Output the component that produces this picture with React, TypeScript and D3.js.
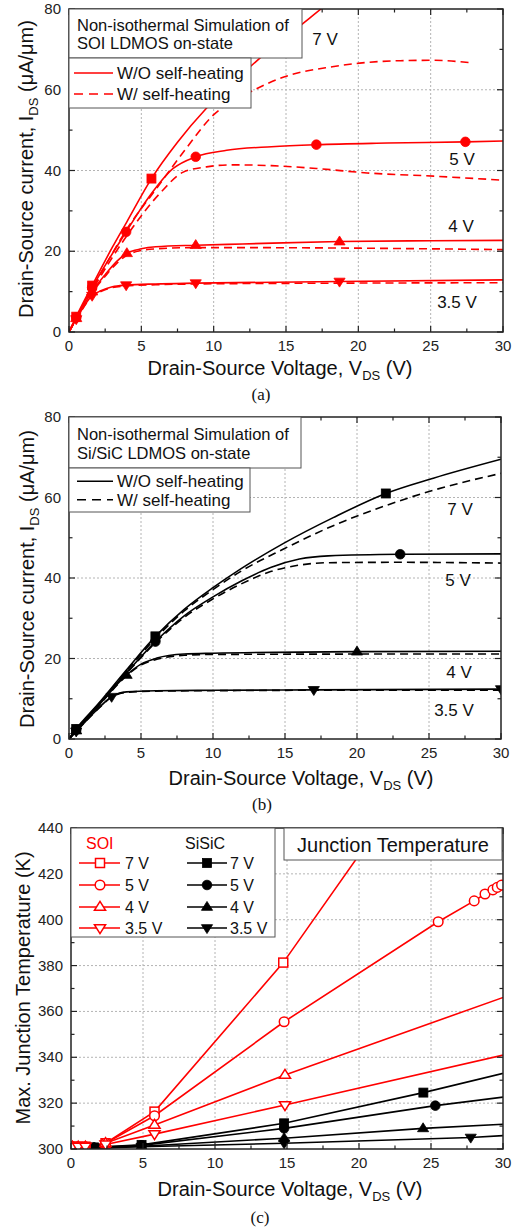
import React from 'react';
import * as d3 from 'd3';

type Pt = [number, number];

// ---------- Panel (a): SOI LDMOS I-V ----------
const a_7V_wo: Pt[] = [[0,0],[0.5,3.8],[1.6,11.5],[3,21],[4,27.3],[5.7,38],[7.5,47],[9.5,55.4],[12,64],[14,70.3],[16.1,76.2],[17.6,80.5],[19,84]];
const a_7V_w: Pt[] = [[0,0],[0.5,3.5],[1.6,10.6],[3,19.5],[4,25.5],[6.06,35.6],[8,45],[9.97,53.7],[12.3,59],[14.8,63.1],[18.2,65.7],[20.1,66.6],[22.9,67.2],[25.2,67.3],[27.7,66.7]];
const a_5V_wo: Pt[] = [[0,0],[0.5,3.6],[1.6,11],[3.95,24.8],[5.5,33.3],[7.2,40.5],[8.76,43.4],[10.9,45],[14,45.9],[17.1,46.4],[22,46.8],[27.4,47.1],[30,47.3]];
const a_5V_w: Pt[] = [[0,0],[0.5,3.4],[1.6,10.3],[3.95,23.6],[6.3,34.4],[7.9,39.6],[9.5,40.9],[11.3,41.4],[14,41.2],[17.1,40.5],[20.6,39.4],[25.2,38.6],[30,37.6]];
const a_4V_wo: Pt[] = [[0,0],[0.5,3.4],[1.6,10],[2.5,14.2],[3.3,17.5],[4,19.5],[5,20.6],[6,21.1],[8.76,21.5],[12,21.8],[18.7,22.4],[25,22.6],[30,22.7]];
const a_4V_w: Pt[] = [[0,0],[0.5,3.3],[1.6,9.7],[2.5,13.8],[3.3,17],[4,19],[5,20.2],[6,20.6],[8.76,20.9],[12,20.9],[18.7,20.8],[25,20.6],[30,20.4]];
const a_35V_wo: Pt[] = [[0,0],[0.5,3.2],[1.6,9],[2.2,10.2],[3,11.2],[3.95,11.6],[6,11.9],[8.76,12.1],[18.7,12.5],[30,12.9]];
const a_35V_w: Pt[] = [[0,0],[0.5,3.1],[1.6,8.8],[2.2,10],[3,11],[3.95,11.4],[6,11.7],[8.76,11.9],[18.7,12.1],[30,12.2]];
const a_7V_marks: Pt[] = [[0.5,3.8],[1.6,11.5],[5.7,38]];
const a_5V_marks: Pt[] = [[0.5,3.6],[1.6,11],[3.95,24.8],[8.76,43.4],[17.1,46.4],[27.4,47.1]];
const a_4V_marks: Pt[] = [[0.5,3.4],[1.6,10],[4,19.5],[8.76,21.5],[18.7,22.4]];
const a_35V_marks: Pt[] = [[0.5,3.2],[1.6,9],[3.95,11.6],[8.76,12.1],[18.7,12.5]];

// ---------- Panel (b): Si/SiC LDMOS I-V ----------
const b_7V_wo: Pt[] = [[0,0],[0.5,2.5],[2,8.6],[4,17.2],[6,25.5],[8,32.2],[10,37.6],[11.9,42.2],[14.9,48.6],[18.35,55],[22,61],[25.3,64.8],[30,69.5]];
const b_7V_w: Pt[] = [[0,0],[0.5,2.4],[2,8.4],[4,16.9],[6,25],[8,31.8],[10,37.1],[11.9,41.6],[14.9,47.2],[18.35,53],[22,58],[25.3,61.8],[30,66]];
const b_5V_wo: Pt[] = [[0,0],[0.5,2.3],[2,8.4],[4,16.5],[6,24.2],[8,30.6],[10,35.3],[12,39.3],[14,42.6],[16,44.7],[18,45.5],[23,45.9],[30,46]];
const b_5V_w: Pt[] = [[0,0],[0.5,2.2],[2,8.3],[4,16.3],[6,23.9],[8,30.2],[10,34.8],[12,38.6],[14,41.6],[16,43.2],[18,43.8],[23,43.9],[30,43.7]];
const b_4V_wo: Pt[] = [[0,0],[0.5,2.1],[2,8.1],[4,15.9],[5,18.6],[6.1,20.1],[8,21.1],[10,21.3],[20,21.7],[30,21.8]];
const b_4V_w: Pt[] = [[0,0],[0.5,2],[2,8],[4,15.7],[5,18.4],[6.1,19.8],[8,20.8],[10,21.0],[20,21.1],[30,21.1]];
const b_35V_wo: Pt[] = [[0,0],[0.5,1.9],[2,7.5],[2.96,10.5],[4,11.7],[6,12],[10,12.1],[17,12.2],[30,12.4]];
const b_35V_w: Pt[] = [[0,0],[0.5,1.9],[2,7.4],[2.96,10.4],[4,11.6],[6,11.9],[10,12],[17,12.1],[30,12.1]];
const b_7V_marks: Pt[] = [[0.5,2.5],[6,25.5],[22,61]];
const b_5V_marks: Pt[] = [[0.5,2.3],[6,24.2],[23,45.9]];
const b_4V_marks: Pt[] = [[0.5,2.1],[4,15.9],[20,21.7]];
const b_35V_marks: Pt[] = [[0.5,1.9],[2.96,10.5],[17,12.2],[30,12.4]];

// ---------- Panel (c): max junction temperature ----------
const c_soi_7V: Pt[] = [[0.1,301],[0.5,301],[1.0,301],[2.4,302.5],[5.8,316.3],[14.74,381.3],[22,446]];
const c_soi_5V: Pt[] = [[0.1,301],[0.5,301],[1.0,301],[2.4,302.5],[5.8,314.5],[14.8,355.5],[25.5,399.1],[28,408.2],[28.75,411.2],[29.3,413],[29.6,414.1],[29.9,415.1]];
const c_soi_4V: Pt[] = [[0.1,301],[0.5,301],[1.0,301],[2.4,302.5],[5.8,310.5],[14.86,332.3],[31,368.3]];
const c_soi_35V: Pt[] = [[0.1,301],[0.5,301],[1.0,301],[2.4,302],[5.8,306.5],[14.86,319.2],[31,342.4]];
const c_sic_7V: Pt[] = [[0.1,300.5],[0.5,300.5],[1.6,300.7],[4.9,301.8],[14.8,311.2],[24.47,324.6],[31,334.5]];
const c_sic_5V: Pt[] = [[0.1,300.5],[0.5,300.5],[1.6,300.6],[4.9,301.6],[14.8,309],[25.3,318.9],[31,323.4]];
const c_sic_4V: Pt[] = [[0.1,300.4],[0.5,300.4],[1.6,300.5],[4.9,301.2],[14.8,304.7],[24.45,309],[31,311.1]];
const c_sic_35V: Pt[] = [[0.1,300.3],[0.5,300.3],[1.6,300.4],[4.9,301],[14.8,302.5],[27.76,305],[31,306.2]];

const xTicks = [0, 5, 10, 15, 20, 25, 30];
const iTicks = [0, 20, 40, 60, 80];
const tTicks = [300, 320, 340, 360, 380, 400, 420, 440];
const gateLabels = ['7 V', '5 V', '4 V', '3.5 V'];

const RED = '#ff0000';
const BLACK = '#000000';
const FONT = 'Arial, "Liberation Sans", Helvetica, sans-serif';

type MType = 'square' | 'circle' | 'tri' | 'itri';

function Marker({ type, x, y, color, filled, size = 9 }: { type: MType; x: number; y: number; color: string; filled: boolean; size?: number }) {
  const fill = filled ? color : '#ffffff';
  const sw = filled ? 0.8 : 1.5;
  const h = size / 2;
  if (type === 'square') return <rect x={x - h} y={y - h} width={size} height={size} fill={fill} stroke={color} strokeWidth={sw} />;
  if (type === 'circle') return <circle cx={x} cy={y} r={h + 0.3} fill={fill} stroke={color} strokeWidth={sw} />;
  const t = size * 0.62;
  if (type === 'tri') return <polygon points={`${x - t},${y + t * 0.6} ${x + t},${y + t * 0.6} ${x},${y - t * 1.0}`} fill={fill} stroke={color} strokeWidth={sw} />;
  return <polygon points={`${x - t},${y - t * 0.6} ${x + t},${y - t * 0.6} ${x},${y + t * 1.0}`} fill={fill} stroke={color} strokeWidth={sw} />;
}

interface Series { pts: Pt[]; color: string; dashed?: boolean; marks?: Pt[]; mtype?: MType; filled?: boolean; curve?: boolean; markAll?: boolean }
interface PanelProps {
  id: string; left: number; right: number; top: number; bottom: number;
  ydom: [number, number]; yticks: number[]; yminor: number;
  series: Series[];
  children?: React.ReactNode;
}

function Panel({ id, left, right, top, bottom, ydom, yticks, yminor, series, children }: PanelProps) {
  const x = d3.scaleLinear().domain([0, 30]).range([left, right]);
  const y = d3.scaleLinear().domain(ydom).range([bottom, top]);
  const xMinor = d3.range(0, 30.01, 2.5);
  const yMinor = d3.range(ydom[0], ydom[1] + 0.01, yminor);
  const grid = '#b4b4b4';
  return (
    <g>
      <defs>
        <clipPath id={`clip-${id}`}><rect x={left} y={top} width={right - left} height={bottom - top} /></clipPath>
      </defs>
      {xTicks.slice(1, -1).map((t) => (
        <line key={`gx${t}`} x1={x(t)} x2={x(t)} y1={top} y2={bottom} stroke={grid} strokeWidth={1} strokeDasharray="2,2" />
      ))}
      {yticks.slice(1, -1).map((t) => (
        <line key={`gy${t}`} x1={left} x2={right} y1={y(t)} y2={y(t)} stroke={grid} strokeWidth={1} strokeDasharray="2,2" />
      ))}
      <g clipPath={`url(#clip-${id})`}>
        {series.map((s, i) => {
          const gen = d3.line<Pt>().x((d) => x(d[0])).y((d) => y(d[1])).curve(s.curve ? d3.curveMonotoneX : d3.curveLinear);
          return <path key={`l${i}`} d={gen(s.pts) || ''} fill="none" stroke={s.color} strokeWidth={1.6} strokeDasharray={s.dashed ? '8,5' : undefined} />;
        })}
        {series.map((s, i) => {
          const m = s.markAll ? s.pts : s.marks || [];
          return m.map((p, j) => (
            <Marker key={`m${i}-${j}`} type={s.mtype || 'circle'} x={x(p[0])} y={y(p[1])} color={s.color} filled={s.filled !== false} />
          ));
        })}
      </g>
      {/* ticks */}
      {xMinor.map((t) => {
        const major = t % 5 === 0;
        const L = major ? 6 : 3.5;
        return (
          <g key={`tx${t}`}>
            <line x1={x(t)} x2={x(t)} y1={bottom} y2={bottom - L} stroke="#222" strokeWidth={1.2} />
            <line x1={x(t)} x2={x(t)} y1={top} y2={top + L} stroke="#222" strokeWidth={1.2} />
          </g>
        );
      })}
      {yMinor.map((t, k) => {
        const major = k % 2 === 0;
        const L = major ? 6 : 3.5;
        return (
          <g key={`ty${t}`}>
            <line x1={left} x2={left + L} y1={y(t)} y2={y(t)} stroke="#222" strokeWidth={1.2} />
            <line x1={right} x2={right - L} y1={y(t)} y2={y(t)} stroke="#222" strokeWidth={1.2} />
          </g>
        );
      })}
      <rect x={left} y={top} width={right - left} height={bottom - top} fill="none" stroke="#222" strokeWidth={1.5} />
      {xTicks.map((t) => (
        <text key={`lx${t}`} x={x(t)} y={bottom + 19} textAnchor="middle" fontSize={15} fill="#222" fontFamily={FONT}>{t}</text>
      ))}
      {yticks.map((t) => (
        <text key={`ly${t}`} x={left - 8} y={y(t) + 5} textAnchor="end" fontSize={15} fill="#222" fontFamily={FONT}>{t}</text>
      ))}
      {children}
    </g>
  );
}

function XLabel({ cx, y }: { cx: number; y: number }) {
  return (
    <text x={cx} y={y} textAnchor="middle" fontSize={20} fill="#111" fontFamily={FONT}>
      <tspan>Drain-Source Voltage, V</tspan>
      <tspan fontSize={13} dy={5}>DS</tspan>
      <tspan dy={-5}> (V)</tspan>
    </text>
  );
}

function IVLegend({ top, mid, bot, right1, right2, lineX, color, title }: { top: number; mid: number; bot: number; right1: number; right2: number; lineX: number; color: string; title: string[] }) {
  const left = 69;
  const r1 = mid - (mid - top) * 0.0;
  const row1 = mid + (bot - mid) * 0.3;
  const row2 = mid + (bot - mid) * 0.72;
  return (
    <g fontFamily={FONT} fill="#111">
      <rect x={left} y={top} width={right1 - left} height={mid - top} fill="#fff" stroke="#555" strokeWidth={1} />
      <rect x={left} y={r1} width={right2 - left} height={bot - mid} fill="#fff" stroke="#555" strokeWidth={1} />
      <text x={77} y={top + (mid - top) * 0.33 + 6} fontSize={16.5}>{title[0]}</text>
      <text x={77} y={top + (mid - top) * 0.7 + 6} fontSize={16.5}>{title[1]}</text>
      <line x1={lineX} x2={113} y1={row1} y2={row1} stroke={color} strokeWidth={1.6} />
      <line x1={lineX} x2={113} y1={row2} y2={row2} stroke={color} strokeWidth={1.6} strokeDasharray="9,6" />
      <text x={117} y={row1 + 6} fontSize={17}>W/O self-heating</text>
      <text x={117} y={row2 + 6} fontSize={17}>W/ self-heating</text>
    </g>
  );
}

export default function App() {
  const aSeries: Series[] = [
    { pts: a_7V_w, color: RED, dashed: true, curve: true },
    { pts: a_5V_w, color: RED, dashed: true, curve: true },
    { pts: a_4V_w, color: RED, dashed: true, curve: true },
    { pts: a_35V_w, color: RED, dashed: true, curve: true },
    { pts: a_7V_wo, color: RED, curve: true, marks: a_7V_marks, mtype: 'square' },
    { pts: a_5V_wo, color: RED, curve: true, marks: a_5V_marks, mtype: 'circle' },
    { pts: a_4V_wo, color: RED, curve: true, marks: a_4V_marks, mtype: 'tri' },
    { pts: a_35V_wo, color: RED, curve: true, marks: a_35V_marks, mtype: 'itri' },
  ];
  const bSeries: Series[] = [
    { pts: b_7V_w, color: BLACK, dashed: true, curve: true },
    { pts: b_5V_w, color: BLACK, dashed: true, curve: true },
    { pts: b_4V_w, color: BLACK, dashed: true, curve: true },
    { pts: b_35V_w, color: BLACK, dashed: true, curve: true },
    { pts: b_7V_wo, color: BLACK, curve: true, marks: b_7V_marks, mtype: 'square' },
    { pts: b_5V_wo, color: BLACK, curve: true, marks: b_5V_marks, mtype: 'circle' },
    { pts: b_4V_wo, color: BLACK, curve: true, marks: b_4V_marks, mtype: 'tri' },
    { pts: b_35V_wo, color: BLACK, curve: true, marks: b_35V_marks, mtype: 'itri' },
  ];
  const cSeries: Series[] = [
    { pts: c_sic_7V, color: BLACK, markAll: true, mtype: 'square' },
    { pts: c_sic_5V, color: BLACK, markAll: true, mtype: 'circle' },
    { pts: c_sic_4V, color: BLACK, markAll: true, mtype: 'tri' },
    { pts: c_sic_35V, color: BLACK, markAll: true, mtype: 'itri' },
    { pts: c_soi_7V, color: RED, markAll: true, mtype: 'square', filled: false },
    { pts: c_soi_5V, color: RED, markAll: true, mtype: 'circle', filled: false },
    { pts: c_soi_4V, color: RED, markAll: true, mtype: 'tri', filled: false },
    { pts: c_soi_35V, color: RED, markAll: true, mtype: 'itri', filled: false },
  ];
  const mtypes: MType[] = ['square', 'circle', 'tri', 'itri'];
  const cRows = [863, 885, 907, 928];

  return (
    <svg width={516} height={1227} style={{ position: 'absolute', left: 0, top: 0, background: '#fff' }} fontFamily={FONT}>
      <rect x={0} y={0} width={516} height={1227} fill="#fff" />
      {/* (a) */}
      <Panel id="a" left={69} right={503} top={9} bottom={332} ydom={[0, 80]} yticks={iTicks} yminor={10} series={aSeries}>
        <IVLegend top={9} mid={58} bot={108} right1={302} right2={251} lineX={74} color={RED} title={['Non-isothermal Simulation of', 'SOI LDMOS on-state']} />
        <text x={325} y={45} textAnchor="middle" fontSize={17} fill="#111">{gateLabels[0]}</text>
        <text x={462} y={165} textAnchor="middle" fontSize={17} fill="#111">{gateLabels[1]}</text>
        <text x={461} y={232} textAnchor="middle" fontSize={17} fill="#111">{gateLabels[2]}</text>
        <text x={457} y={308} textAnchor="middle" fontSize={17} fill="#111">{gateLabels[3]}</text>
      </Panel>
      <XLabel cx={280} y={375} />
      <text transform="translate(33,169) rotate(-90)" textAnchor="middle" fontSize={20} fill="#111">
        <tspan>Drain-Source current, I</tspan><tspan fontSize={13} dy={5}>DS</tspan><tspan dy={-5}> (μA/μm)</tspan>
      </text>
      <text x={261} y={400} textAnchor="middle" fontSize={17} fontFamily="'Liberation Serif', 'Times New Roman', serif" fill="#111">(a)</text>

      {/* (b) */}
      <Panel id="b" left={69} right={501} top={417} bottom={739} ydom={[0, 80]} yticks={iTicks} yminor={10} series={bSeries}>
        <IVLegend top={417} mid={468} bot={512} right1={301} right2={250} lineX={77} color={BLACK} title={['Non-isothermal Simulation of', 'Si/SiC LDMOS on-state']} />
        <text x={460} y={515} textAnchor="middle" fontSize={17} fill="#111">{gateLabels[0]}</text>
        <text x={458} y={586} textAnchor="middle" fontSize={17} fill="#111">{gateLabels[1]}</text>
        <text x={459} y={678} textAnchor="middle" fontSize={17} fill="#111">{gateLabels[2]}</text>
        <text x={454} y={716} textAnchor="middle" fontSize={17} fill="#111">{gateLabels[3]}</text>
      </Panel>
      <XLabel cx={301} y={785} />
      <text transform="translate(34,579) rotate(-90)" textAnchor="middle" fontSize={20} fill="#111">
        <tspan>Drain-Source current, I</tspan><tspan fontSize={13} dy={5}>DS</tspan><tspan dy={-5}> (μA/μm)</tspan>
      </text>
      <text x={262} y={810} textAnchor="middle" fontSize={17} fontFamily="'Liberation Serif', 'Times New Roman', serif" fill="#111">(b)</text>

      {/* (c) */}
      <Panel id="c" left={71} right={503} top={828} bottom={1149} ydom={[300, 440]} yticks={tTicks} yminor={10} series={cSeries}>
        <g fontFamily={FONT}>
          <rect x={71} y={828} width={204} height={109} fill="#fff" stroke="#555" strokeWidth={1} />
          <text x={86} y={849} fontSize={16} fill={RED}>SOI</text>
          <text x={185} y={849} fontSize={16} fill="#111">SiSiC</text>
          {cRows.map((ry, k) => (
            <g key={`lg${k}`}>
              <line x1={79} x2={120} y1={ry} y2={ry} stroke={RED} strokeWidth={1.6} />
              <Marker type={mtypes[k]} x={100} y={ry} color={RED} filled={false} />
              <text x={125} y={ry + 6} fontSize={16} fill="#111">{gateLabels[k]}</text>
              <line x1={187} x2={227} y1={ry} y2={ry} stroke={BLACK} strokeWidth={1.6} />
              <Marker type={mtypes[k]} x={207} y={ry} color={BLACK} filled={true} />
              <text x={230} y={ry + 6} fontSize={16} fill="#111">{gateLabels[k]}</text>
            </g>
          ))}
          <rect x={284} y={828} width={218} height={32} fill="#fff" stroke="#555" strokeWidth={1} />
          <text x={393} y={852} textAnchor="middle" fontSize={20} fill="#111">Junction Temperature</text>
        </g>
      </Panel>
      <XLabel cx={290} y={1196} />
      <text transform="translate(30,988) rotate(-90)" textAnchor="middle" fontSize={20} fill="#111">Max. Junction Temperature (K)</text>
      <text x={260} y={1223} textAnchor="middle" fontSize={17} fontFamily="'Liberation Serif', 'Times New Roman', serif" fill="#111">(c)</text>
    </svg>
  );
}
